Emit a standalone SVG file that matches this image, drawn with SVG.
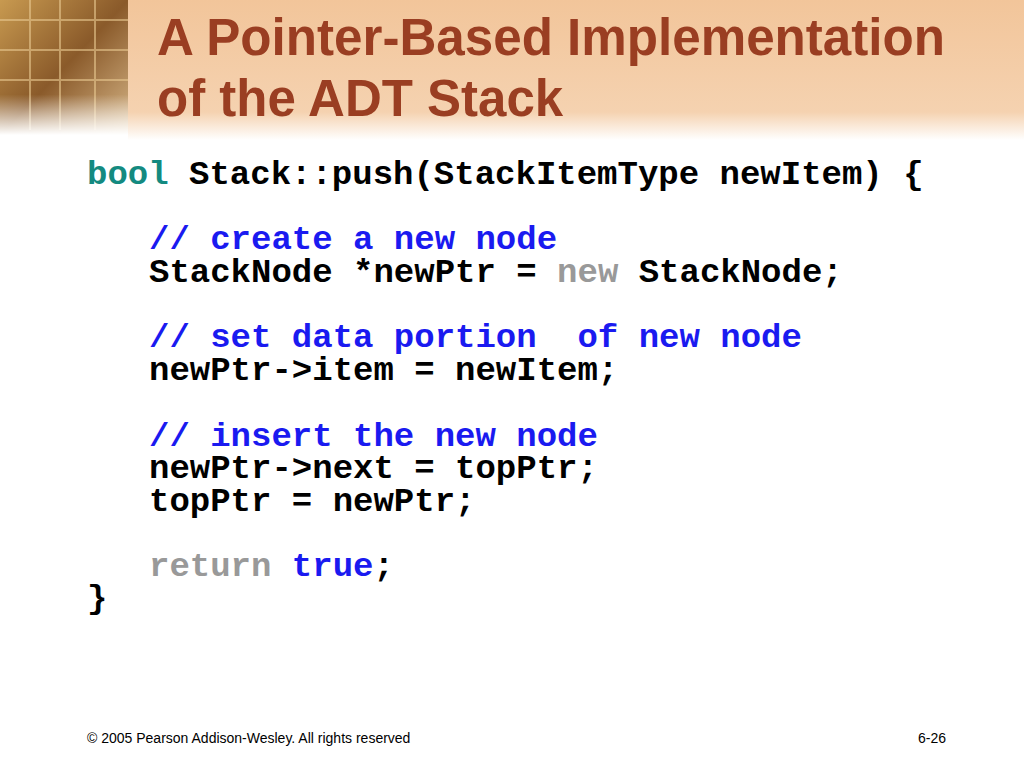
<svg xmlns="http://www.w3.org/2000/svg" width="1024" height="768" viewBox="0 0 1024 768">
<defs>
<linearGradient id="band" x1="0" y1="0" x2="0" y2="1">
<stop offset="0" stop-color="#f2c59a"/><stop offset="0.8" stop-color="#f5d2b0"/><stop offset="1" stop-color="#ffffff"/>
</linearGradient>
<linearGradient id="photo" x1="0" y1="0" x2="1" y2="1">
<stop offset="0" stop-color="#c89a50"/><stop offset="0.5" stop-color="#8a5a2a"/><stop offset="1" stop-color="#d8b88a"/>
</linearGradient>
<linearGradient id="fade" x1="0" y1="0" x2="0" y2="1">
<stop offset="0.7" stop-color="#fff" stop-opacity="0"/><stop offset="1" stop-color="#fff" stop-opacity="1"/>
</linearGradient>
<style>
.t{font-family:"Liberation Sans",Arial,sans-serif;font-weight:bold;font-size:51px;fill:#9a3e22}
.c{font-family:"Liberation Mono","Courier New",monospace;font-weight:bold;font-size:34px;fill:#000;white-space:pre}
.k{fill:#148a80}.b{fill:#1a1af0}.g{fill:#999}
.f{font-family:"Liberation Sans",Arial,sans-serif;font-size:14px;fill:#000}
</style>
</defs>
<rect width="1024" height="768" fill="#fff"/>
<rect x="128" y="0" width="896" height="140" fill="url(#band)"/>
<rect x="0" y="0" width="128" height="135" fill="url(#photo)"/>
<g stroke="#e8c890" stroke-width="2" opacity="0.6">
<line x1="30" y1="0" x2="30" y2="130"/><line x1="60" y1="0" x2="60" y2="130"/><line x1="95" y1="0" x2="95" y2="130"/>
<line x1="0" y1="20" x2="128" y2="20"/><line x1="0" y1="50" x2="128" y2="50"/><line x1="0" y1="80" x2="128" y2="80"/>
</g>
<rect x="0" y="0" width="128" height="135" fill="url(#fade)"/>
<text class="t" x="157" y="55" textLength="788" lengthAdjust="spacingAndGlyphs">A Pointer-Based Implementation</text>
<text class="t" x="157" y="116">of the ADT Stack</text>
<text class="c" x="87" y="184"><tspan class="k">bool</tspan> Stack::push(StackItemType newItem) {</text>
<text class="c b" x="149" y="249">// create a new node</text>
<text class="c" x="149" y="282">StackNode *newPtr = <tspan class="g">new</tspan> StackNode;</text>
<text class="c b" x="149" y="347">// set data portion  of new node</text>
<text class="c" x="149" y="380">newPtr-&gt;item = newItem;</text>
<text class="c b" x="149" y="446">// insert the new node</text>
<text class="c" x="149" y="478">newPtr-&gt;next = topPtr;</text>
<text class="c" x="149" y="511">topPtr = newPtr;</text>
<text class="c" x="149" y="576"><tspan class="g">return</tspan> <tspan class="b">true</tspan>;</text>
<text class="c" x="87" y="608">}</text>
<text class="f" x="87" y="743">© 2005 Pearson Addison-Wesley. All rights reserved</text>
<text class="f" x="946" y="743" text-anchor="end">6-26</text>
</svg>
